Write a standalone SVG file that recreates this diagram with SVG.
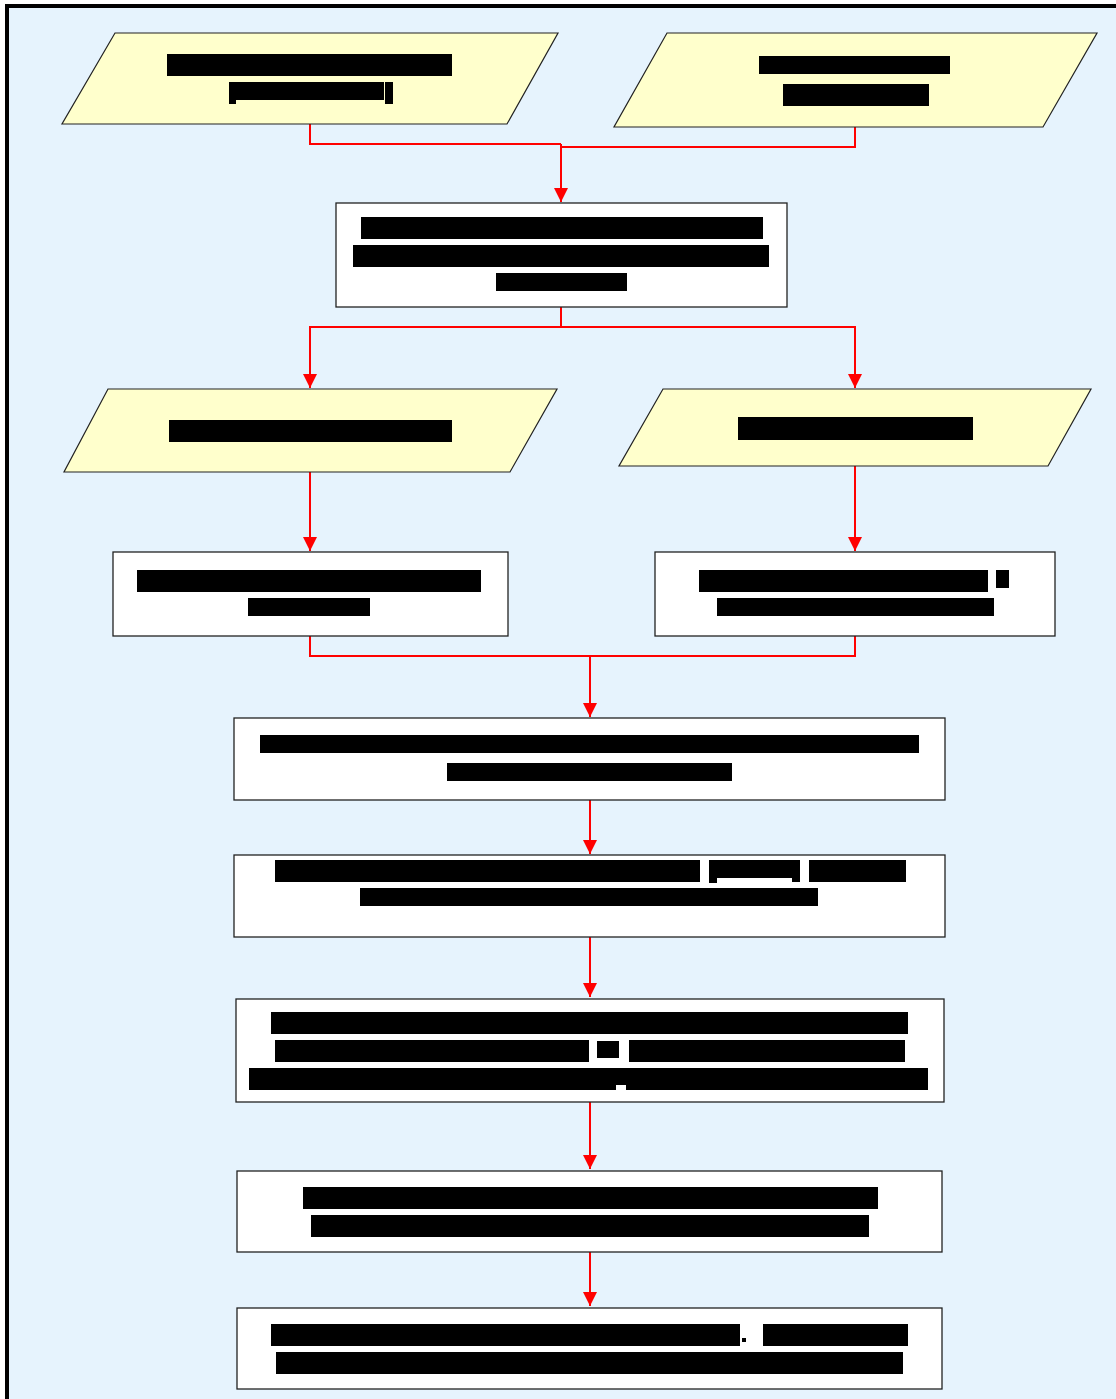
<svg xmlns="http://www.w3.org/2000/svg" width="1116" height="1399" viewBox="0 0 1116 1399">
<defs>
<style>
.frame{fill:#E6F3FD;stroke:#000;stroke-width:4}
.io{fill:#FFFFCC;stroke:#222;stroke-width:1.2}
.box{fill:#FFFFFF;stroke:#222;stroke-width:1.3}
.bar{fill:#000}
.conn{fill:none;stroke:#FF0000;stroke-width:2}
</style>
<marker id="ah" markerWidth="16" markerHeight="14" refX="14" refY="7" orient="auto" markerUnits="userSpaceOnUse">
<path d="M0,0 L14,7 L0,14 Z" fill="#FF0000"/>
</marker>
</defs>
<rect class="frame" x="7" y="6" width="1125" height="1410"/>

<g id="connectors">
<path class="conn" d="M310,124 V144 H561"/>
<path class="conn" d="M855,127 V147 H561"/>
<path class="conn" d="M561,144 V202" marker-end="url(#ah)"/>
<path class="conn" d="M561,307 V327 H310 V388" marker-end="url(#ah)"/>
<path class="conn" d="M561,327 H855 V388" marker-end="url(#ah)"/>
<path class="conn" d="M310,472 V551" marker-end="url(#ah)"/>
<path class="conn" d="M855,466 V551" marker-end="url(#ah)"/>
<path class="conn" d="M310,636 V656 H855 V636"/>
<path class="conn" d="M590,656 V717" marker-end="url(#ah)"/>
<path class="conn" d="M590,800 V854" marker-end="url(#ah)"/>
<path class="conn" d="M590,937 V997" marker-end="url(#ah)"/>
<path class="conn" d="M590,1102 V1169" marker-end="url(#ah)"/>
<path class="conn" d="M590,1252 V1306" marker-end="url(#ah)"/>
</g>

<g id="input-a">
<polygon class="io" points="115,33 558,33 507,124 62,124"/>
<rect class="bar" x="167" y="54" width="285" height="22"/>
<rect class="bar" x="229" y="82" width="7" height="22"/>
<rect class="bar" x="236" y="82" width="148" height="18"/>
<rect class="bar" x="385" y="82" width="8" height="22"/>
</g>

<g id="input-b">
<polygon class="io" points="667,33 1097,33 1043,127 614,127"/>
<rect class="bar" x="759" y="56" width="191" height="18"/>
<rect class="bar" x="783" y="84" width="146" height="22"/>
</g>

<g id="process-c">
<rect class="box" x="336" y="203" width="451" height="104"/>
<rect class="bar" x="361" y="217" width="402" height="22"/>
<rect class="bar" x="353" y="245" width="416" height="22"/>
<rect class="bar" x="496" y="273" width="131" height="18"/>
</g>

<g id="input-d">
<polygon class="io" points="108,389 557,389 510,472 64,472"/>
<rect class="bar" x="169" y="420" width="283" height="22"/>
</g>

<g id="input-e">
<polygon class="io" points="663,389 1091,389 1048,466 619,466"/>
<rect class="bar" x="738" y="417" width="235" height="23"/>
</g>

<g id="process-f">
<rect class="box" x="113" y="552" width="395" height="84"/>
<rect class="bar" x="137" y="570" width="344" height="22"/>
<rect class="bar" x="248" y="598" width="122" height="18"/>
</g>

<g id="process-g">
<rect class="box" x="655" y="552" width="400" height="84"/>
<rect class="bar" x="699" y="570" width="289" height="22"/>
<rect class="bar" x="996" y="570" width="13" height="18"/>
<rect class="bar" x="717" y="598" width="277" height="18"/>
</g>

<g id="process-h">
<rect class="box" x="234" y="718" width="711" height="82"/>
<rect class="bar" x="260" y="735" width="659" height="18"/>
<rect class="bar" x="447" y="763" width="285" height="18"/>
</g>

<g id="process-i">
<rect class="box" x="234" y="855" width="711" height="82"/>
<rect class="bar" x="275" y="860" width="425" height="22"/>
<rect class="bar" x="709" y="860" width="8" height="23"/>
<rect class="bar" x="717" y="860" width="75" height="18"/>
<rect class="bar" x="792" y="860" width="8" height="22"/>
<rect class="bar" x="809" y="860" width="97" height="22"/>
<rect class="bar" x="360" y="888" width="458" height="18"/>
</g>

<g id="process-j">
<rect class="box" x="236" y="999" width="708" height="103"/>
<rect class="bar" x="271" y="1012" width="637" height="22"/>
<rect class="bar" x="275" y="1040" width="314" height="22"/>
<rect class="bar" x="597" y="1041" width="22" height="17"/>
<rect class="bar" x="629" y="1040" width="276" height="22"/>
<rect class="bar" x="249" y="1068" width="367" height="22"/>
<rect class="bar" x="616" y="1068" width="10" height="17"/>
<rect class="bar" x="626" y="1068" width="302" height="22"/>
</g>

<g id="process-k">
<rect class="box" x="237" y="1171" width="705" height="81"/>
<rect class="bar" x="303" y="1187" width="575" height="22"/>
<rect class="bar" x="311" y="1215" width="558" height="22"/>
</g>

<g id="process-l">
<rect class="box" x="237" y="1308" width="705" height="81"/>
<rect class="bar" x="271" y="1324" width="469" height="22"/>
<rect class="bar" x="742" y="1338" width="4" height="4"/>
<rect class="bar" x="763" y="1324" width="145" height="22"/>
<rect class="bar" x="276" y="1352" width="627" height="22"/>
</g>
</svg>
